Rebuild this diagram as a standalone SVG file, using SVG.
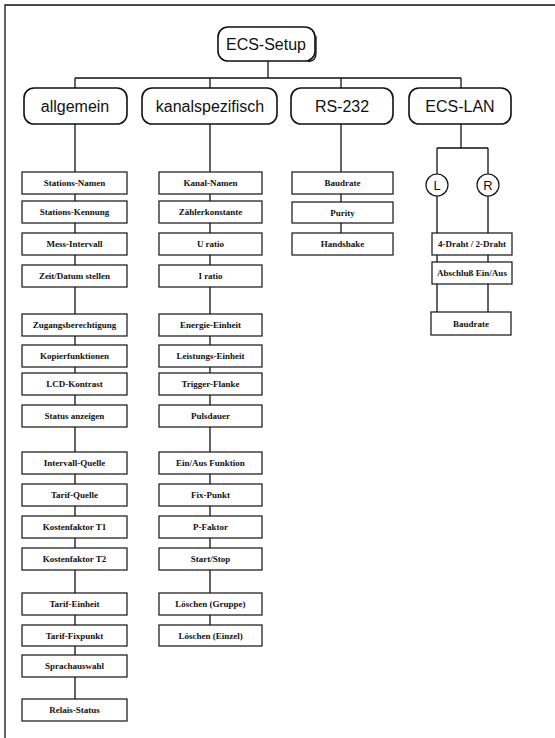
<svg xmlns="http://www.w3.org/2000/svg" width="555" height="738" viewBox="0 0 555 738">
<style>
.ln{stroke:#111;stroke-width:1.3;fill:none}
.big{fill:#fff;stroke:#111;stroke-width:1.6}
.box{fill:#fff;stroke:#111;stroke-width:1.2}
.bt{font-family:"Liberation Sans",Arial,sans-serif;font-size:16px;fill:#111;text-anchor:middle;dominant-baseline:central}
.st{font-family:"Liberation Serif","Times New Roman",serif;font-size:9px;font-weight:bold;fill:#111;text-anchor:middle;dominant-baseline:central}
.ct{font-family:"Liberation Sans",Arial,sans-serif;font-size:13px;fill:#111;text-anchor:middle;dominant-baseline:central}
</style>
<rect width="555" height="738" fill="#fff"/>
<g id="frame" class="ln"><path d="M5,738 V5 H555"/></g>
<g id="connectors" class="ln">
<path d="M268,61 V78 M75,78 H461 M75,78 V88 M210,78 V88 M341,78 V88 M461,78 V88"/>
<path d="M75,124 V710"/>
<path d="M210,124 V625"/>
<path d="M341,124 V233"/>
<path d="M461,124 V148 M437,148 H488 M437,148 V174 M488,148 V174 M437,196 V312 M488,196 V312"/>
</g>
<g id="ecs-setup"><rect class="big" x="218" y="27" width="97" height="34" rx="10"/><path d="M308,61.5 Q316,61.5 316,53 V36" class="ln" stroke-width="2.5"/><text class="bt" x="266" y="44" font-size="17">ECS-Setup</text></g>
<g id="allgemein"><rect class="big" x="24" y="88" width="103" height="36" rx="10"/><text class="bt" x="75" y="106">allgemein</text></g>
<g id="kanalspezifisch"><rect class="big" x="142" y="88" width="135" height="36" rx="10"/><text class="bt" x="210" y="106">kanalspezifisch</text></g>
<g id="rs232"><rect class="big" x="291" y="88" width="102" height="36" rx="10"/><text class="bt" x="342" y="106">RS-232</text></g>
<g id="ecslan"><rect class="big" x="409" y="88" width="102" height="36" rx="10"/><text class="bt" x="460" y="106">ECS-LAN</text></g>
<g id="circle-L"><circle class="box" cx="437" cy="185" r="11"/><text class="ct" x="437" y="185">L</text></g>
<g id="circle-R"><circle class="box" cx="488" cy="185" r="11"/><text class="ct" x="488" y="185">R</text></g>
<g id="a1"><rect class="box" x="22" y="172" width="105" height="22"/><text class="st" x="74.5" y="183">Stations-Namen</text></g>
<g id="a2"><rect class="box" x="22" y="201" width="105" height="22"/><text class="st" x="74.5" y="212">Stations-Kennung</text></g>
<g id="a3"><rect class="box" x="22" y="233" width="105" height="22"/><text class="st" x="74.5" y="244">Mess-Intervall</text></g>
<g id="a4"><rect class="box" x="22" y="265" width="105" height="22"/><text class="st" x="74.5" y="276">Zeit/Datum stellen</text></g>
<g id="a5"><rect class="box" x="22" y="314" width="105" height="22"/><text class="st" x="74.5" y="325">Zugangsberechtigung</text></g>
<g id="a6"><rect class="box" x="22" y="345" width="105" height="22"/><text class="st" x="74.5" y="356">Kopierfunktionen</text></g>
<g id="a7"><rect class="box" x="22" y="373" width="105" height="22"/><text class="st" x="74.5" y="384">LCD-Kontrast</text></g>
<g id="a8"><rect class="box" x="22" y="405" width="105" height="22"/><text class="st" x="74.5" y="416">Status anzeigen</text></g>
<g id="a9"><rect class="box" x="22" y="452" width="105" height="22"/><text class="st" x="74.5" y="463">Intervall-Quelle</text></g>
<g id="a10"><rect class="box" x="22" y="484" width="105" height="22"/><text class="st" x="74.5" y="495">Tarif-Quelle</text></g>
<g id="a11"><rect class="box" x="22" y="516" width="105" height="22"/><text class="st" x="74.5" y="527">Kostenfaktor T1</text></g>
<g id="a12"><rect class="box" x="22" y="548" width="105" height="22"/><text class="st" x="74.5" y="559">Kostenfaktor T2</text></g>
<g id="a13"><rect class="box" x="22" y="593" width="105" height="22"/><text class="st" x="74.5" y="604">Tarif-Einheit</text></g>
<g id="a14"><rect class="box" x="22" y="625" width="105" height="21"/><text class="st" x="74.5" y="635.5">Tarif-Fixpunkt</text></g>
<g id="a15"><rect class="box" x="22" y="655" width="105" height="22"/><text class="st" x="74.5" y="666">Sprachauswahl</text></g>
<g id="a16"><rect class="box" x="22" y="699" width="105" height="22"/><text class="st" x="74.5" y="710">Relais-Status</text></g>
<g id="k1"><rect class="box" x="159" y="172" width="103" height="22"/><text class="st" x="210.5" y="183">Kanal-Namen</text></g>
<g id="k2"><rect class="box" x="159" y="201" width="103" height="22"/><text class="st" x="210.5" y="212">Zählerkonstante</text></g>
<g id="k3"><rect class="box" x="159" y="233" width="103" height="22"/><text class="st" x="210.5" y="244">U ratio</text></g>
<g id="k4"><rect class="box" x="159" y="265" width="103" height="22"/><text class="st" x="210.5" y="276">I ratio</text></g>
<g id="k5"><rect class="box" x="159" y="314" width="103" height="22"/><text class="st" x="210.5" y="325">Energie-Einheit</text></g>
<g id="k6"><rect class="box" x="159" y="345" width="103" height="22"/><text class="st" x="210.5" y="356">Leistungs-Einheit</text></g>
<g id="k7"><rect class="box" x="159" y="373" width="103" height="22"/><text class="st" x="210.5" y="384">Trigger-Flanke</text></g>
<g id="k8"><rect class="box" x="159" y="405" width="103" height="22"/><text class="st" x="210.5" y="416">Pulsdauer</text></g>
<g id="k9"><rect class="box" x="159" y="452" width="103" height="22"/><text class="st" x="210.5" y="463">Ein/Aus Funktion</text></g>
<g id="k10"><rect class="box" x="159" y="484" width="103" height="22"/><text class="st" x="210.5" y="495">Fix-Punkt</text></g>
<g id="k11"><rect class="box" x="159" y="516" width="103" height="22"/><text class="st" x="210.5" y="527">P-Faktor</text></g>
<g id="k12"><rect class="box" x="159" y="548" width="103" height="22"/><text class="st" x="210.5" y="559">Start/Stop</text></g>
<g id="k13"><rect class="box" x="159" y="593" width="103" height="22"/><text class="st" x="210.5" y="604">Löschen (Gruppe)</text></g>
<g id="k14"><rect class="box" x="159" y="625" width="103" height="21"/><text class="st" x="210.5" y="635.5">Löschen (Einzel)</text></g>
<g id="r1"><rect class="box" x="292" y="172" width="101" height="22"/><text class="st" x="342.5" y="183">Baudrate</text></g>
<g id="r2"><rect class="box" x="292" y="202" width="101" height="21"/><text class="st" x="342.5" y="212.5">Purity</text></g>
<g id="r3"><rect class="box" x="292" y="233" width="101" height="22"/><text class="st" x="342.5" y="244">Handshake</text></g>
<g id="e1"><rect class="box" x="432" y="233" width="80" height="22"/><text class="st" x="472" y="244">4-Draht / 2-Draht</text></g>
<g id="e2"><rect class="box" x="432" y="262" width="80" height="22"/><text class="st" x="472" y="273">Abschluß Ein/Aus</text></g>
<g id="e3"><rect class="box" x="431" y="312" width="80" height="23"/><text class="st" x="471" y="323.5">Baudrate</text></g>
</svg>
